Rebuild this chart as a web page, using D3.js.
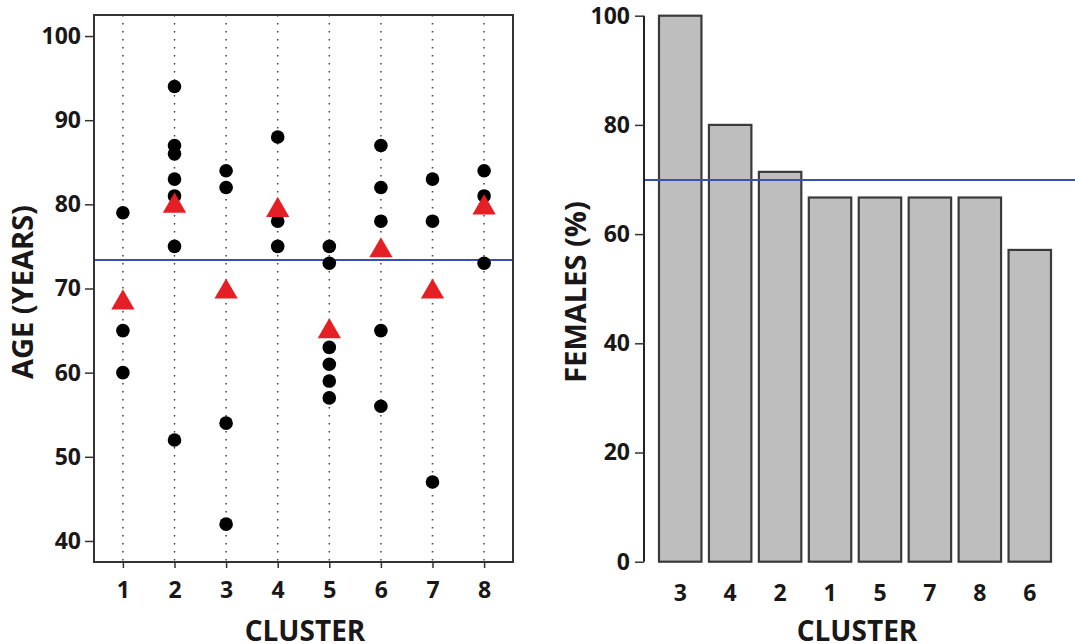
<!DOCTYPE html>
<html>
<head>
<meta charset="utf-8">
<script src="https://cdn.jsdelivr.net/npm/d3@7"></script>
<style>
body{margin:0;background:#fff;}
text{font-family:"Open Sans",sans-serif;font-weight:700;fill:#1a1718;}
</style>
</head>
<body>
<div id="chart"></div>
<script>
// left panel: age of each member per cluster, red triangle = cluster mean
var clusters=[1,2,3,4,5,6,7,8];
var ages=[
	[79,65,60],
	[94,87,86,83,81,75,52],
	[84,82,54,42],
	[88,78,75],
	[75,73,63,61,59,57],
	[87,82,78,65,56],
	[83,78,47],
	[84,81,73]
];
var ageMeans=[68.3,79.8,69.6,79.3,64.9,74.5,69.6,79.6];
var ageOverall=73.4;
var ageTicks=[40,50,60,70,80,90,100];

// right panel: % females, clusters sorted
var barClusters=["3","4","2","1","5","7","8","6"];
var females=[100,80,71.4,66.7,66.7,66.7,66.7,57.1];
var femaleOverall=69.9;
var femaleTicks=[0,20,40,60,80,100];

var W=1075,H=644;
var svg=d3.select("#chart").append("svg").attr("width",W).attr("height",H);

(function left(){
	var x=d3.scaleLinear().domain([0.44,8.56]).range([94,513]);
	var y=d3.scaleLinear().domain([37.5,102.5]).range([562,15]);
	var g=svg.append("g");

	g.selectAll(".vline").data(clusters).enter().append("line")
		.attr("x1",function(d){return x(d);}).attr("x2",function(d){return x(d);})
		.attr("y1",y.range()[1]).attr("y2",y.range()[0])
		.attr("stroke","#444").attr("stroke-width",1.5).attr("stroke-dasharray","1.6,6.4");

	g.append("line").attr("x1",94).attr("x2",513)
		.attr("y1",y(ageOverall)).attr("y2",y(ageOverall))
		.attr("stroke","#3c4db5").attr("stroke-width",2);

	var pts=[];
	ages.forEach(function(a,i){a.forEach(function(v){pts.push({c:clusters[i],v:v});});});
	g.selectAll(".dot").data(pts).enter().append("circle")
		.attr("cx",function(d){return x(d.c);}).attr("cy",function(d){return y(d.v);})
		.attr("r",6.8).attr("fill","#000");

	var tri=d3.symbol().type(d3.symbolTriangle).size(235);
	g.selectAll(".tri").data(ageMeans).enter().append("path")
		.attr("d",tri)
		.attr("transform",function(d,i){return "translate("+x(clusters[i])+","+y(d)+")";})
		.attr("fill","#e41f26");

	g.append("rect").attr("x",94).attr("y",15).attr("width",419).attr("height",547)
		.attr("fill","none").attr("stroke","#333").attr("stroke-width",2);

	var ya=g.append("g").attr("transform","translate(94,0)")
		.call(d3.axisLeft(y).tickValues(ageTicks).tickSize(9).tickPadding(4));
	ya.select(".domain").remove();
	ya.selectAll("line").attr("stroke","#333").attr("stroke-width",1.5);
	ya.selectAll("text").style("font-size","23px").attr("fill","#1a1718");

	var xa=g.append("g").attr("transform","translate(0,562)")
		.call(d3.axisBottom(x).tickValues(clusters).tickFormat(d3.format("d")).tickSize(6).tickPadding(14));
	xa.select(".domain").remove();
	xa.selectAll("line").attr("stroke","#333").attr("stroke-width",1.5);
	xa.selectAll("text").style("font-size","23px").attr("fill","#1a1718");

	g.append("text").attr("x",305).attr("y",641).attr("text-anchor","middle")
		.style("font-size","28px").text("CLUSTER");
	g.append("text").attr("transform","translate(33,292) rotate(-90)").attr("text-anchor","middle")
		.style("font-size","29px").text("AGE (YEARS)");
})();

(function right(){
	var x=d3.scaleBand().domain(barClusters).range([655,1055]).paddingInner(0.15).paddingOuter(0.08);
	var y=d3.scaleLinear().domain([0,100]).range([561.7,15.7]);
	var g=svg.append("g");

	g.selectAll(".bar").data(females).enter().append("rect")
		.attr("x",function(d,i){return x(barClusters[i]);})
		.attr("y",function(d){return y(d);})
		.attr("width",x.bandwidth())
		.attr("height",function(d){return y(0)-y(d);})
		.attr("fill","#bfbebf").attr("stroke","#3a3a3a").attr("stroke-width",2.2);

	g.append("line").attr("x1",644).attr("x2",W)
		.attr("y1",y(femaleOverall)).attr("y2",y(femaleOverall))
		.attr("stroke","#3c4db5").attr("stroke-width",2);

	var ya=g.append("g").attr("transform","translate(644,0)")
		.call(d3.axisLeft(y).tickValues(femaleTicks).tickSize(9).tickPadding(5));
	ya.select(".domain").attr("stroke","#222").attr("stroke-width",2)
		.attr("d","M0,"+y(100)+"V"+y(0));
	ya.selectAll("line").attr("stroke","#333").attr("stroke-width",1.5);
	ya.selectAll("text").style("font-size","23px").attr("fill","#1a1718");

	var xa=g.append("g").attr("transform","translate(0,562)")
		.call(d3.axisBottom(x).tickSize(0).tickPadding(23));
	xa.select(".domain").remove();
	xa.selectAll("text").style("font-size","23px").attr("fill","#1a1718");

	g.append("text").attr("x",857).attr("y",641).attr("text-anchor","middle")
		.style("font-size","28px").text("CLUSTER");
	g.append("text").attr("transform","translate(586,292) rotate(-90)").attr("text-anchor","middle")
		.style("font-size","29px").text("FEMALES (%)");
})();
</script>
</body>
</html>
